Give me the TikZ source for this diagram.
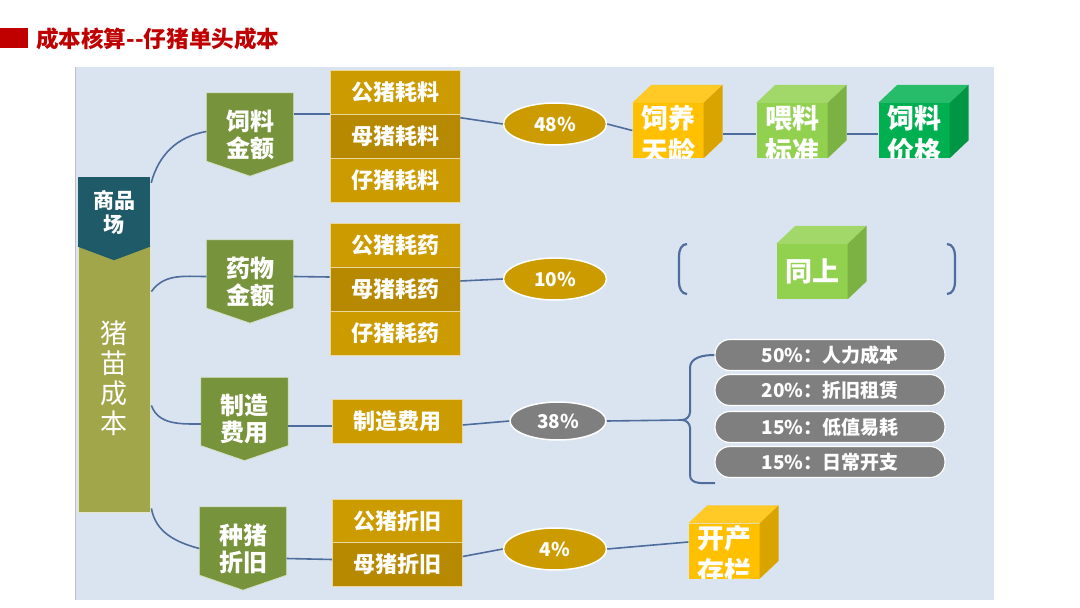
\documentclass[tikz,border=0pt]{standalone}
\usepackage{fontspec}
\setmainfont{Noto Sans CJK SC}
\usetikzlibrary{calc,shapes.geometric}
\pgfdeclarelayer{bg}
\pgfsetlayers{bg,main}

\definecolor{titred}{HTML}{C00000}
\definecolor{panelbg}{HTML}{DAE4F0}
\definecolor{lnkblue}{HTML}{4E6C9C}
\definecolor{colive}{HTML}{A2A64B}
\definecolor{cteal}{HTML}{1F5A69}
\definecolor{boxgrn}{HTML}{77933C}
\definecolor{gld}{HTML}{CC9B00}
\definecolor{gldd}{HTML}{B78900}
\definecolor{pillgray}{HTML}{7F7F7F}
\definecolor{ylw}{HTML}{FFC000}
\definecolor{lgn}{HTML}{92D050}
\definecolor{dgn}{HTML}{00B050}

\begin{document}
\begin{tikzpicture}[x=1pt, y=1pt,
  lnk/.style={draw=lnkblue, line width=1.6pt},
  grnbox/.style={minimum width=87pt, minimum height=83pt, inner sep=0pt, text=white, align=center, font=\fontsize{24}{27}\selectfont\bfseries},
  gbox/.style={fill=gld, draw=white!60!gld, line width=0.6pt, minimum width=130pt, minimum height=44pt, inner sep=0pt, text=white, font=\fontsize{22}{25}\selectfont\bfseries},
  pct/.style={ellipse, fill=gld, draw=white, line width=1.5pt, minimum width=103pt, minimum height=42pt, inner sep=0pt, text=white, font=\fontsize{19}{22}\selectfont\bfseries},
  pill/.style={rounded corners=15pt, fill=pillgray, draw=white, line width=1.2pt, minimum width=230pt, minimum height=31pt, inner sep=0pt, text=white, font=\fontsize{19}{22}\selectfont\bfseries},
  cubef/.style={minimum width=71pt, minimum height=55pt, inner sep=0pt},
  cubetxt/.style={text=white, align=center, inner sep=0pt, font=\fontsize{27}{33}\selectfont\bfseries},
]
  \useasboundingbox (0,0) rectangle (1080,-608);
  % 标题
  \node[fill=titred, minimum width=28pt, minimum height=20pt, inner sep=0pt] (mk) at (14,-38) {};
  \node[anchor=west, inner sep=0pt, text=titred, font=\fontsize{22.6}{26}\selectfont\bfseries] (ttl) at (36,-39) {成本核算{-}{-}仔猪单头成本};

  % 左侧 猪苗成本 / 商品场
  \node[fill=colive, draw=white!70!colive, line width=0.8pt, minimum width=72pt, minimum height=267pt, inner sep=0pt, text=white, align=center, font=\fontsize{27}{30}\selectfont] (zmcb) at (114,-378.5) {猪\\苗\\成\\本};
  \node[fill=cteal, minimum width=72pt, minimum height=70pt, inner sep=0pt, text=white, align=center, font=\fontsize{21}{24}\selectfont\bfseries] (spc) at (114,-212) {商品\\场};
  \fill[cteal] ($(spc.south west)+(0,0.5)$) -- ($(spc.south east)+(0,0.5)$) -- ($(spc.south)+(0,-13)$) -- cycle;

  % 四个分项
  \node[grnbox] (fa) at (250,-134.5) {饲料\\金额};
  \node[grnbox] (yw) at (250,-281.5) {药物\\金额};
  \node[grnbox] (zz) at (244.5,-419) {制造\\费用};
  \node[grnbox] (zg) at (243,-548.5) {种猪\\折旧};

  \node[gbox] (gl1) at (395,-92) {公猪耗料};
  \node[gbox, fill=gldd] (gl2) at (395,-136) {母猪耗料};
  \node[gbox] (gl3) at (395,-180) {仔猪耗料};
  \node[gbox] (gy1) at (395,-245) {公猪耗药};
  \node[gbox, fill=gldd] (gy2) at (395,-289) {母猪耗药};
  \node[gbox] (gy3) at (395,-333) {仔猪耗药};
  \node[gbox] (zzfy) at (397.5,-421) {制造费用};
  \node[gbox] (gz1) at (397.5,-521.5) {公猪折旧};
  \node[gbox, fill=gldd] (gz2) at (397.5,-564.5) {母猪折旧};

  % 占比
  \node[pct] (e48) at (555,-124) {48\%};
  \node[pct] (e10) at (555,-279) {10\%};
  \node[pct, fill=pillgray, minimum width=96pt, minimum height=38pt] (e38) at (558,-421) {38\%};
  \node[pct] (e4) at (555,-549) {4\%};

  % 制造费用明细
  \node[pill] (p1) at (830,-355) {50\%：人力成本};
  \node[pill] (p2) at (830,-390) {20\%：折旧租赁};
  \node[pill] (p3) at (830,-427) {15\%：低值易耗};
  \node[pill] (p4) at (830,-462) {15\%：日常开支};
  \coordinate (kh) at (682,-420);
  \coordinate (kb) at (715,-483);

  % 立方体 正面
  \node[cubef, fill=ylw] (ylf) at (668,-130.5) {};
  \node[cubef, fill=lgn] (wlf) at (792,-130.5) {};
  \node[cubef, fill=dgn] (slf) at (914,-130.5) {};
  \node[cubef, fill=lgn, cubetxt] (tsf) at (812,-271.5) {同上};
  \node[cubef, fill=ylw] (kcf) at (724,-551) {};
  \foreach \c/\cl in {ylf/ylw,wlf/lgn,slf/dgn,tsf/lgn,kcf/ylw}{
    \fill[\cl!85!white] (\c.north west) -- ++(19,18) -- ($(\c.north east)+(19,18)$) -- (\c.north east) -- cycle;
    \fill[\cl!85!black] (\c.north east) -- ++(19,18) -- ($(\c.south east)+(19,18)$) -- (\c.south east) -- cycle;
  }
  % 文字超出正面的部分被裁掉
  \begin{scope}
    \clip (ylf.north west) rectangle (ylf.south east);
    \node[cubetxt] (tylf) at ($(ylf)+(0,-4)$) {饲养\\天龄};
  \end{scope}
  \begin{scope}
    \clip (wlf.north west) rectangle (wlf.south east);
    \node[cubetxt] (twlf) at ($(wlf)+(0,-4)$) {喂料\\标准};
  \end{scope}
  \begin{scope}
    \clip (slf.north west) rectangle (slf.south east);
    \node[cubetxt] (tslf) at ($(slf)+(0,-4)$) {饲料\\价格};
  \end{scope}
  \begin{scope}
    \clip (kcf.north west) rectangle (kcf.south east);
    \node[cubetxt] (tkcf) at ($(kcf)+(0,-4)$) {开产\\存栏};
  \end{scope}

  % 底板和五边形
  \begin{pgfonlayer}{bg}
    \fill[panelbg] (75,-67) rectangle (994,-600);
    \draw[gray!50] (75,-67) -- (75,-600);
    \foreach \n in {fa,yw,zz,zg}
      \filldraw[fill=boxgrn, draw=white!70!boxgrn, line width=0.8pt] (\n.north west) -- (\n.north east) -- ($(\n.south east)+(0,15)$) -- (\n.south) -- ($(\n.south west)+(0,15)$) -- cycle;
  \end{pgfonlayer}

  % 连线
  \draw[lnk] ($(spc.north east)+(1,-6)$) to[out=75,in=190] ($(fa.west)+(0,3)$);
  \draw[lnk] ($(zmcb.north east)+(1,-47)$) to[out=55,in=180] ($(yw.west)+(0,5)$);
  \draw[lnk] ($(zmcb.east)+(1,-27)$) to[out=-70,in=180] ($(zz.west)+(0,-5)$);
  \draw[lnk] ($(zmcb.south east)+(1,4)$) to[out=-80,in=165] (zg.west);

  \draw[lnk] (fa.east |- gl2.north west) -- (gl2.north west);
  \draw[lnk] ($(gl2.north east)+(0,-4)$) -- (e48.west);
  \draw[lnk] (e48.east) -- (ylf.west);
  \draw[lnk] ($(ylf.east)+(19,-3.5)$) -- ($(wlf.west)+(0,-3.5)$);
  \draw[lnk] ($(wlf.east)+(19,-3.5)$) -- ($(slf.west)+(0,-3.5)$);

  \draw[lnk] ($(yw.east)+(0,5)$) -- ($(gy2.west)+(0,12)$);
  \draw[lnk] ($(gy2.east)+(0,8)$) -- (e10.west);
  \draw[lnk, line width=2.2pt] (687,-244) to[out=180,in=90] (679,-256) -- (679,-282) to[out=-90,in=180] (687,-294);
  \draw[lnk, line width=2.2pt] (947,-244) to[out=0,in=90] (955,-256) -- (955,-282) to[out=-90,in=0] (947,-294);

  \draw[lnk] ($(zz.east)+(0,-7)$) -- ($(zzfy.west)+(0,-5)$);
  \draw[lnk] ($(zzfy.east)+(0,-4)$) -- (e38.west);
  \draw[lnk] (e38.east) -- (kh);
  \draw[lnk, line width=2pt] (p1.west) to[out=180,in=90] (690,-368) -- (690,-412) to[out=-90,in=0] (kh) to[out=0,in=90] (690,-428) -- (690,-475) to[out=-90,in=180] (kb);

  \draw[lnk] ($(zg.east)+(0,-10)$) -- ($(gz2.west)+(0,5)$);
  \draw[lnk] ($(gz2.east)+(0,8)$) -- (e4.west);
  \draw[lnk] (e4.east) -- ($(kcf.west)+(0,9)$);
\end{tikzpicture}
\end{document}
